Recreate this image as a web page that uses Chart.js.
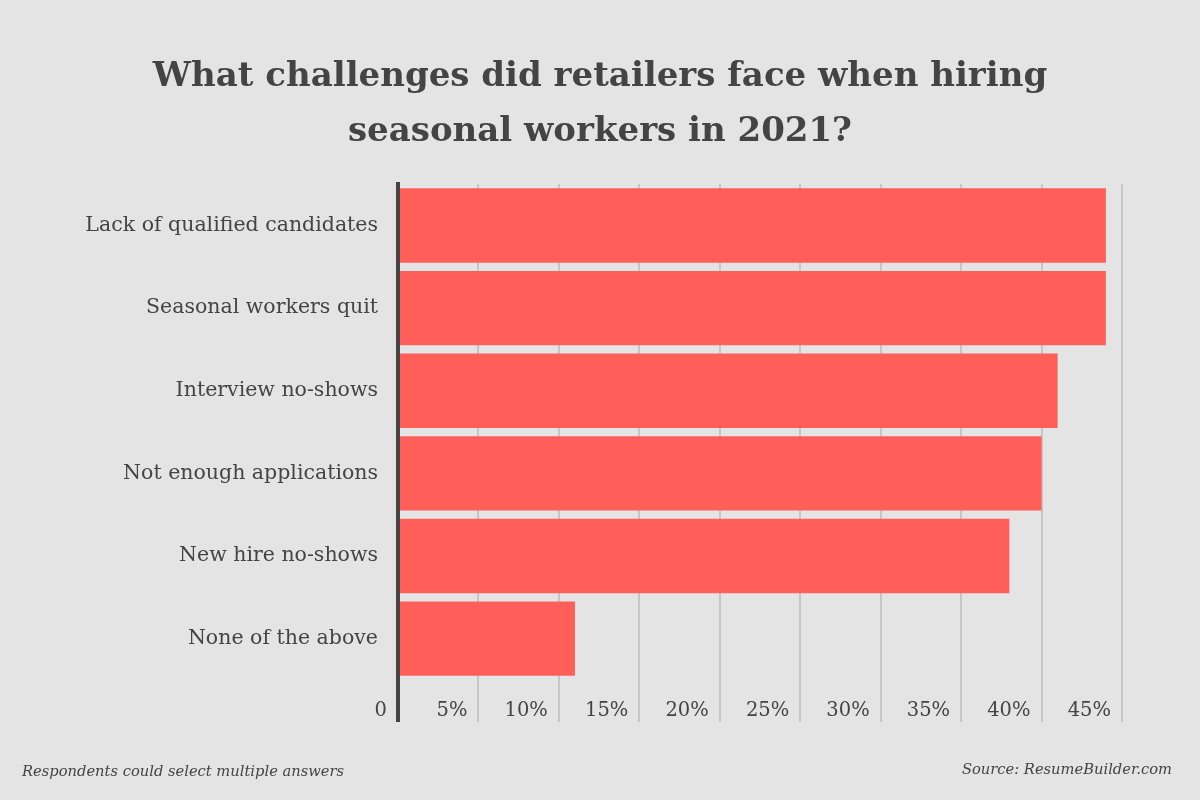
<!DOCTYPE html>
<html>
<head>
<meta charset="utf-8">
<script src="https://cdn.jsdelivr.net/npm/chart.js@4"></script>
<style>
  html, body { margin: 0; padding: 0; background: #e4e4e4; }
  #wrap { width: 1200px; height: 800px; position: relative; }
</style>
</head>
<body>
<div id="wrap"><canvas id="challengeChart" width="1200" height="800"></canvas></div>
<script>
const categories = [
    'Lack of qualified candidates',
    'Seasonal workers quit',
    'Interview no-shows',
    'Not enough applications',
    'New hire no-shows',
    'None of the above'
];
const shares = [44, 44, 41, 40, 38, 11]; // percent of retailers
const tickValues = [0, 5, 10, 15, 20, 25, 30, 35, 40, 45];
const tickLabels = ['0', '5%', '10%', '15%', '20%', '25%', '30%', '35%', '40%', '45%'];

const titleLines = ['What challenges did retailers face when hiring', 'seasonal workers in 2021?'];
const noteText = 'Respondents could select multiple answers';
const sourceText = 'Source: ResumeBuilder.com';

const textColour = '#444444';
const serif = "'DejaVu Serif', serif";

// footnotes along the bottom edge
const footnotes = {
    id: 'footnotes',
    afterDraw(chart) {
        const ctx = chart.ctx;
        ctx.save();
        ctx.fillStyle = textColour;
        ctx.font = 'italic 14.7px ' + serif;
        ctx.textBaseline = 'alphabetic';
        ctx.textAlign = 'left';
        ctx.fillText(noteText, 22, 776);
        ctx.textAlign = 'right';
        ctx.fillText(sourceText, 1172, 774);
        ctx.restore();
    }
};

const ctx = document.getElementById('challengeChart').getContext('2d');
new Chart(ctx, {
    type: 'bar',
    data: {
        labels: categories,
        datasets: [{
            data: shares,
            backgroundColor: '#ff5f58',
            borderWidth: 0,
            categoryPercentage: 1,
            barPercentage: 0.9
        }]
    },
    options: {
        indexAxis: 'y',
        responsive: false,
        animation: false,
        layout: {
            padding: { left: 0, right: 0, top: 0, bottom: 78 }
        },
        plugins: {
            legend: { display: false },
            tooltip: { enabled: false },
            title: {
                display: true,
                text: titleLines,
                color: textColour,
                font: { family: serif, size: 34, weight: 'bold', lineHeight: 1.62 },
                padding: { top: 50, bottom: 24 }
            }
        },
        scales: {
            x: {
                min: 0,
                max: 45,
                afterBuildTicks: scale => {
                    scale.ticks = tickValues.map(v => ({ value: v }));
                },
                afterFit: scale => { scale.height = 42; },
                grid: {
                    color: c => (c.tick && c.tick.value === 0) ? '#444444' : '#c6c6c6',
                    lineWidth: c => (c.tick && c.tick.value === 0) ? 4 : 2,
                    drawTicks: true,
                    tickLength: 42,
                    tickColor: c => (c.tick && c.tick.value === 0) ? '#444444' : '#c6c6c6',
                    tickWidth: c => (c.tick && c.tick.value === 0) ? 4 : 2
                },
                border: { display: false },
                ticks: {
                    align: 'end',
                    labelOffset: -11,
                    padding: -23,
                    maxRotation: 0,
                    autoSkip: false,
                    color: textColour,
                    font: { family: serif, size: 19.5 },
                    callback: (value, i) => tickLabels[i]
                }
            },
            y: {
                afterFit: scale => { scale.width = 398; },
                grid: { display: false, drawTicks: false },
                border: { display: true, color: '#444444', width: 4 },
                ticks: {
                    padding: 20,
                    color: textColour,
                    font: { family: serif, size: 20.5 }
                }
            },
            // empty right-hand strip so the title stays centred on the page
            spacer: {
                type: 'linear',
                position: 'right',
                display: true,
                afterFit: scale => { scale.width = 78; },
                grid: { display: false, drawTicks: false },
                border: { display: false },
                ticks: { display: false }
            }
        }
    },
    plugins: [footnotes]
});
</script>
</body>
</html>
